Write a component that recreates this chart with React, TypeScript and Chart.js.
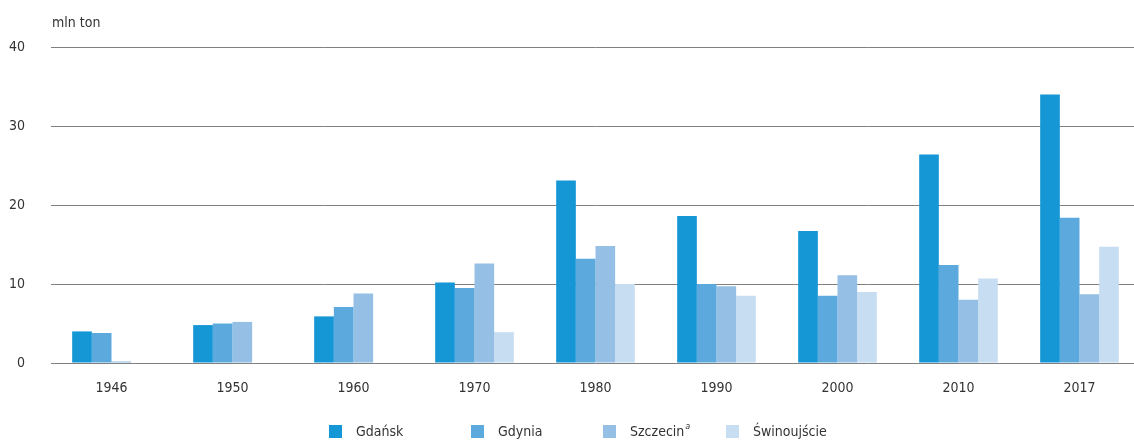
import React, { useEffect, useRef } from "react";
import { Chart, registerables } from "chart.js";

Chart.register(...registerables);

const years = ["1946", "1950", "1960", "1970", "1980", "1990", "2000", "2010", "2017"];
const gdansk = [4.0, 4.8, 5.9, 10.2, 23.1, 18.6, 16.7, 26.4, 34.0];
const gdynia = [3.8, 5.0, 7.1, 9.5, 13.2, 10.0, 8.5, 12.4, 18.4];
const szczecin = [0.2, 5.2, 8.8, 12.6, 14.8, 9.7, 11.1, 8.0, 8.7];
const swinoujscie = [null, null, null, 3.9, 10.0, 8.5, 9.0, 10.7, 14.7];
const seriesNames = ["Gdańsk", "Gdynia", "Szczecin", "Świnoujście"];
const footnotes = ["", "", "a", ""];
const yTicks = [0, 10, 20, 30, 40];
const unitLabel = "mln ton";

const COLORS = ["#1596d5", "#5caadd", "#95bfe5", "#c7def2"];
const FONT = '"Liberation Sans Narrow", "DejaVu Sans Condensed", "Liberation Sans", sans-serif';
const FONT_SIZE = 14;
const TEXT = "#333333";
const LEGEND_X = [329, 471, 603, 726];

const overlayPlugin = {
  id: "overlay",
  afterDraw(chart: any) {
    const ctx = chart.ctx;
    const area = chart.chartArea;
    ctx.save();
    ctx.font = `${FONT_SIZE}px ${FONT}`;
    ctx.textBaseline = "middle";
    ctx.textAlign = "left";
    ctx.fillStyle = TEXT;
    ctx.fillText(unitLabel, area.left + 1, 23);
    chart.data.datasets.forEach((ds: any, i: number) => {
      const x = LEGEND_X[i];
      ctx.fillStyle = ds.backgroundColor;
      ctx.fillRect(x, 425, 13, 13);
      ctx.fillStyle = TEXT;
      ctx.font = `${FONT_SIZE}px ${FONT}`;
      ctx.fillText(ds.label, x + 27, 432);
      if (footnotes[i]) {
        const w = ctx.measureText(ds.label).width;
        ctx.font = `italic 9px ${FONT}`;
        ctx.fillText(footnotes[i], x + 27 + w + 1, 427);
      }
    });
    ctx.restore();
  },
};

export default function App() {
  const ref = useRef<HTMLCanvasElement>(null);
  useEffect(() => {
    if (!ref.current) return;
    const values = [gdansk, gdynia, szczecin, swinoujscie];
    const chart = new Chart(ref.current, {
      type: "bar",
      data: {
        labels: years,
        datasets: seriesNames.map((name, i) => ({
          label: name,
          data: values[i] as any,
          backgroundColor: COLORS[i],
          borderWidth: 0,
          categoryPercentage: 0.65,
          barPercentage: 1.0,
        })),
      },
      options: {
        responsive: false,
        animation: false,
        devicePixelRatio: 1,
        layout: { padding: { top: 47, right: 2, bottom: 50, left: 0 } },
        plugins: {
          legend: { display: false },
          tooltip: { enabled: false },
          title: { display: false },
        },
        scales: {
          x: {
            type: "category",
            offset: true,
            grid: { display: false, drawTicks: false },
            border: { display: false },
            ticks: {
              padding: 17,
              color: TEXT,
              font: { family: FONT, size: FONT_SIZE },
              maxRotation: 0,
            },
            afterFit(s: any) {
              s.height = 37;
            },
          },
          y: {
            min: 0,
            max: 40,
            afterBuildTicks(s: any) {
              s.ticks = yTicks.map((v) => ({ value: v }));
            },
            ticks: {
              padding: 26,
              color: TEXT,
              font: { family: FONT, size: FONT_SIZE },
            },
            grid: { color: "#808080", lineWidth: 1, drawTicks: false },
            border: { display: false },
            afterFit(s: any) {
              s.width = 51;
            },
          },
        },
      },
      plugins: [overlayPlugin],
    });
    return () => chart.destroy();
  }, []);
  return (
    <div
      style={{
        position: "absolute",
        left: 0,
        top: 0,
        width: 1134,
        height: 443,
        overflow: "hidden",
        background: "#ffffff",
      }}
    >
      <canvas ref={ref} width={1142} height={450} style={{ display: "block" }} />
    </div>
  );
}
